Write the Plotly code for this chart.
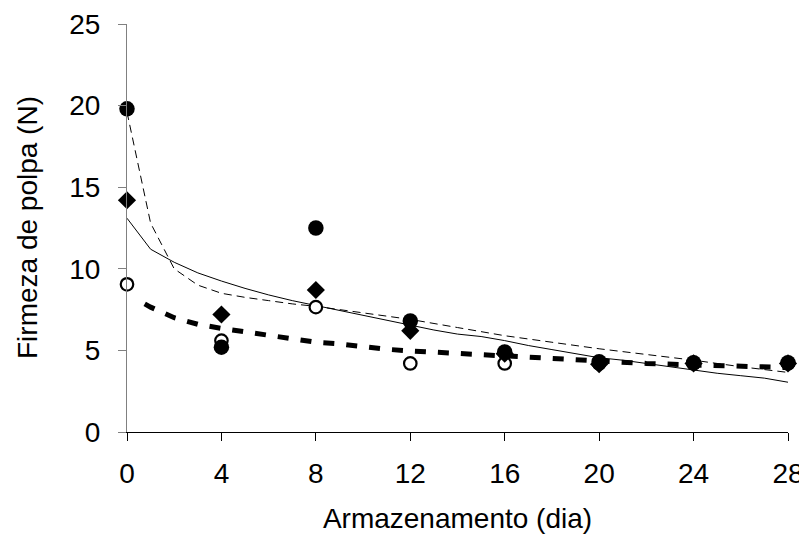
import plotly.graph_objects as go

# observed points
days = [0, 4, 8, 12, 16, 20, 24, 28]
filled_circles = [19.8, 5.2, 12.5, 6.8, 4.9, 4.3, 4.25, 4.25]
diamonds = [14.2, 7.2, 8.7, 6.2, 4.8, 4.15, 4.2, 4.2]
open_circles = [9.05, 5.6, 7.65, 4.2, 4.2, 4.2, 4.2, 4.2]

# fitted curves
solid_x = [0, 1, 2, 3, 4, 5, 6, 7, 8, 9, 10, 11, 12, 13, 14, 15, 16, 17, 18, 19, 20, 21, 22, 23, 24, 25, 26, 27, 28]
solid_y = [13.1, 11.2, 10.4, 9.75, 9.25, 8.8, 8.4, 8.05, 7.75, 7.45, 7.15, 6.85, 6.55, 6.25, 6.0, 5.85, 5.6, 5.3, 5.05, 4.8, 4.55, 4.4, 4.2, 4.0, 3.8, 3.6, 3.45, 3.3, 3.05]

thin_dash_x = [0, 1, 2, 3, 4, 5, 6, 7, 8, 10, 12, 14, 16, 18, 20, 22, 24, 26, 28]
thin_dash_y = [19.6, 12.8, 10.0, 9.0, 8.5, 8.25, 8.05, 7.85, 7.7, 7.3, 6.9, 6.4, 5.9, 5.5, 5.1, 4.75, 4.4, 4.0, 3.65]

thick_dash_x = [0.75, 1, 2, 3, 4, 5, 6, 7, 8, 9, 10, 11, 12, 14, 16, 18, 20, 22, 24, 26, 28]
thick_dash_y = [7.85, 7.65, 7.0, 6.6, 6.35, 6.15, 5.95, 5.75, 5.5, 5.4, 5.23, 5.07, 4.97, 4.82, 4.62, 4.45, 4.31, 4.2, 4.11, 4.03, 3.95]

x_ticks = [0, 4, 8, 12, 16, 20, 24, 28]
y_ticks = [0, 5, 10, 15, 20, 25]

x_title = "Armazenamento (dia)"
y_title = "Firmeza de polpa (N)"

FONT = "Liberation Sans, Arial, sans-serif"

fig = go.Figure()
fig.add_trace(go.Scatter(x=solid_x, y=solid_y, mode="lines",
                         line=dict(color="black", width=1), hoverinfo="skip"))
fig.add_trace(go.Scatter(x=thin_dash_x, y=thin_dash_y, mode="lines",
                         line=dict(color="black", width=1, dash="8px,5px"), hoverinfo="skip"))
fig.add_trace(go.Scatter(x=thick_dash_x, y=thick_dash_y, mode="lines",
                         line=dict(color="black", width=5, dash="11px,12px"), hoverinfo="skip"))
fig.add_trace(go.Scatter(x=days, y=open_circles, mode="markers", cliponaxis=False,
                         marker=dict(symbol="circle", size=12.5, color="white",
                                     line=dict(color="black", width=2.2))))
fig.add_trace(go.Scatter(x=days, y=diamonds, mode="markers", cliponaxis=False,
                         marker=dict(symbol="diamond", size=14, color="black",
                                     line=dict(width=0))))
fig.add_trace(go.Scatter(x=days, y=filled_circles, mode="markers", cliponaxis=False,
                         marker=dict(symbol="circle", size=15.5, color="black",
                                     line=dict(width=0))))

# page body adds an 8px offset, so the figure is sized to fit the window
fig.update_layout(
    width=799, height=531,
    margin=dict(l=119, r=19, t=16, b=107, autoexpand=False),
    paper_bgcolor="white", plot_bgcolor="white",
    showlegend=False,
    font=dict(family=FONT, size=28, color="black"),
    annotations=[dict(
        text=y_title, textangle=-90, showarrow=False,
        xref="paper", yref="paper", x=0, y=0.5,
        xanchor="center", yanchor="middle", xshift=-100,
        font=dict(family=FONT, size=28, color="black"),
    )],
)
fig.update_xaxes(
    range=[0, 28], tickvals=x_ticks, ticktext=[str(v) for v in x_ticks],
    showgrid=False, zeroline=False, automargin=False,
    showline=True, linecolor="black", linewidth=1,
    ticks="outside", ticklen=8, tickcolor="black", tickwidth=1,
    ticklabelstandoff=8,
    title=dict(text=x_title, standoff=20, font=dict(size=28)),
)
fig.update_yaxes(
    range=[0, 25], tickvals=y_ticks, ticktext=[str(v) for v in y_ticks],
    showgrid=False, zeroline=False, automargin=False,
    showline=True, linecolor="#808080", linewidth=1.2,
    ticks="outside", ticklen=8, tickcolor="#808080", tickwidth=1.2,
    ticklabelstandoff=12,
)

fig.write_html("out.html")
